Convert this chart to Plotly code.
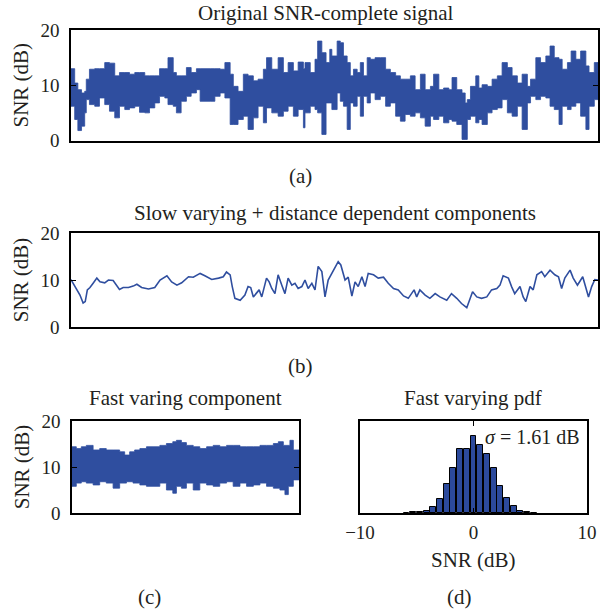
import plotly.graph_objects as go

# ---------------- data ----------------
# (a) original SNR complete signal: upper / lower envelope of the dense trace
a_pos = [0, 7, 13, 20, 26, 29, 35, 45, 54, 64, 73, 83, 92, 102, 111, 121, 130, 140, 149, 159, 168, 178, 184, 194, 200, 209, 219, 228, 238,
         245, 264, 273, 283, 292, 302, 308, 317, 327, 336, 346, 355, 365, 371, 381, 393, 403, 412, 422, 431, 441, 444, 454, 463, 468, 476, 484, 491,
         495, 505, 511, 517, 524, 530, 536, 543, 549, 555, 562, 568, 577, 587, 597, 606, 616, 625, 634, 644, 653, 663, 672, 682, 688, 698, 707, 717, 723, 732, 742, 748,
         752, 758, 768, 774, 780, 790, 799, 809, 818, 828, 837, 847, 856, 866, 872, 882, 891, 901, 909, 917, 926, 932, 942, 949, 958, 967, 977, 983, 993, 1000]
a_upper = [13.0, 10.4, 9.2, 8.6, 8.9, 11.1, 12.9, 13.0, 13.0, 14.1, 14.0, 11.7, 12.3, 12.3, 12.0, 12.3, 12.3, 11.7, 11.7, 11.7, 13.0, 13.0, 15.0, 12.3, 11.7, 11.7, 13.2, 12.3, 13.0,
           13.0, 13.0, 13.0, 12.9, 14.1, 12.0, 9.8, 8.9, 12.0, 11.7, 10.8, 11.1, 12.9, 15.0, 12.9, 15.0, 12.3, 14.1, 12.6, 14.2, 13.0, 14.1, 12.3, 14.7, 18.0, 15.9, 14.1, 16.5,
           15.3, 18.0, 17.7, 15.3, 14.1, 11.7, 12.9, 12.3, 14.1, 11.7, 15.0, 14.7, 15.0, 15.0, 12.9, 12.3, 11.7, 11.1, 11.1, 11.7, 9.2, 12.0, 9.2, 9.8, 12.0, 9.2, 9.5, 9.2, 11.4, 9.2, 8.6, 6.8,
           7.4, 9.8, 11.7, 9.5, 10.1, 9.8, 11.1, 11.7, 14.1, 13.2, 11.7, 10.4, 12.0, 9.8, 11.1, 15.0, 14.1, 15.3, 17.1, 15.0, 14.7, 12.9, 14.1, 16.2, 14.7, 16.2, 13.5, 12.3, 14.1, 12.3]
a_lower = [7.7, 6.2, 3.8, 1.8, 2.6, 5.0, 7.4, 6.5, 6.2, 7.7, 6.5, 5.3, 4.1, 6.2, 5.6, 5.9, 6.2, 5.1, 5.0, 5.9, 6.8, 8.0, 7.7, 6.5, 6.2, 5.0, 7.1, 8.0, 8.6,
           9.2, 7.1, 7.1, 8.0, 8.6, 7.7, 2.9, 2.9, 3.8, 4.4, 2.0, 4.1, 6.2, 3.2, 5.9, 5.0, 4.4, 5.3, 6.2, 4.4, 5.6, 2.3, 5.0, 6.2, 5.6, 5.0, 1.1, 6.8,
           6.8, 5.6, 8.6, 7.1, 6.2, 2.0, 6.8, 6.2, 8.0, 4.4, 8.0, 6.8, 8.6, 7.4, 8.0, 6.2, 6.8, 4.4, 3.5, 4.7, 4.4, 5.0, 4.1, 2.6, 4.4, 3.8, 4.4, 3.2, 3.8, 3.5, 2.9, 0.2,
           0.2, 3.8, 4.4, 3.2, 3.8, 2.9, 5.0, 5.6, 5.9, 7.4, 5.0, 4.4, 6.2, 2.0, 6.8, 8.0, 7.4, 8.0, 7.7, 6.2, 5.6, 2.9, 6.2, 5.6, 6.2, 6.8, 4.4, 2.0, 6.2, 7.4]

# (b) slow varying + distance dependent components
b_pos = [0, 8, 17, 23, 27, 31, 36, 42, 49, 55, 64, 71, 80, 92, 99, 109, 118, 125, 134, 147, 159, 169, 182, 191, 201, 210, 223, 232, 245, 254,
         267, 280, 289, 295, 302, 306, 311, 321, 330, 336, 341, 346, 352, 357, 362, 371, 376, 381, 387, 393, 400, 406, 412, 419, 425, 431, 438, 444, 450,
         457, 463, 469, 476, 482, 488, 495, 501, 507, 512, 520, 526, 533, 539, 545, 552, 558, 564, 574, 583, 593, 602, 612, 621, 631, 640,
         651, 656, 662, 672, 681, 691, 700, 713, 722, 732, 741, 751, 757, 762, 770, 779, 789, 798, 808, 814, 820, 830, 836, 842, 852, 858,
         863, 871, 877, 884, 893, 899, 909, 918, 925, 931, 937, 947, 953, 961, 971, 982, 988, 994, 1000]
b_snr = [10.1, 8.6, 6.8, 5.1, 5.4, 7.9, 8.4, 9.3, 10.4, 9.6, 9.4, 10.0, 9.9, 8.0, 8.4, 8.4, 8.7, 9.1, 8.4, 8.1, 8.4, 10.0, 10.9, 9.6, 8.9, 9.4, 10.7, 10.6, 11.4, 10.9,
         10.1, 10.4, 10.7, 11.7, 11.1, 8.6, 6.1, 5.7, 6.8, 8.6, 8.4, 6.4, 7.1, 7.9, 6.4, 10.4, 9.6, 8.2, 7.1, 11.1, 8.9, 7.1, 10.4, 8.9, 9.3, 8.2, 8.6, 10.0, 8.2,
         9.3, 7.9, 12.9, 11.8, 6.4, 10.0, 11.4, 12.9, 13.9, 13.2, 10.0, 10.6, 6.6, 9.6, 8.6, 10.7, 8.6, 11.4, 11.1, 10.4, 10.6, 9.3, 8.2, 7.9, 6.6, 6.1,
         7.9, 6.4, 7.9, 6.8, 6.1, 7.1, 6.4, 5.7, 7.1, 6.1, 5.0, 4.1, 6.1, 7.5, 6.4, 6.1, 6.4, 7.9, 8.2, 8.9, 10.9, 10.4, 8.6, 7.1, 8.6, 6.4,
         5.4, 8.6, 7.9, 11.1, 11.8, 10.7, 12.1, 11.1, 10.7, 8.2, 10.4, 12.1, 10.4, 8.9, 10.7, 6.4, 8.6, 10.1, 10.0]

# (c) fast varying component: upper / lower envelope
c_up_pos = [0, 19, 41, 63, 93, 122, 151, 181, 210, 232, 254, 276, 299, 328, 357, 387, 416, 444, 460, 482, 504, 534, 563, 593, 622, 651, 681, 710, 740, 769, 799, 828, 857, 887, 909, 931, 960, 975, 1000]
c_upper = [14.4, 14.0, 14.4, 14.7, 13.7, 14.0, 13.7, 13.7, 13.3, 12.6, 13.3, 13.7, 14.0, 14.4, 14.4, 14.7, 15.1, 15.5, 15.8, 15.3, 14.7, 14.4, 14.0, 14.4, 14.7, 14.4, 14.7, 14.7, 14.4, 14.4, 14.4, 14.7, 14.7, 15.1, 15.5, 14.7, 15.8, 13.7, 13.3]
c_lo_pos = [0, 19, 41, 63, 93, 122, 151, 181, 210, 240, 269, 299, 328, 357, 387, 416, 444, 460, 482, 504, 534, 563, 593, 622, 651, 681, 710, 740, 769, 799, 828, 857, 887, 916, 938, 953, 975, 1000]
c_lower = [7.2, 5.8, 6.5, 6.8, 6.5, 6.1, 6.8, 6.5, 5.4, 6.5, 6.8, 6.5, 6.1, 5.8, 5.8, 6.5, 5.0, 4.3, 5.8, 5.4, 6.5, 5.0, 6.5, 6.1, 5.8, 6.5, 6.8, 5.8, 6.5, 5.8, 6.1, 6.5, 5.8, 5.4, 5.0, 4.0, 5.8, 7.2]

# (d) fast varying pdf (histogram)
d_bins = [-5.90, -5.31, -4.72, -4.13, -3.54, -2.95, -2.36, -1.77, -1.18, -0.59, 0.0, 0.59, 1.18, 1.77, 2.36, 2.95, 3.54, 4.13, 4.72, 5.31]
d_pdf = [0.004, 0.007, 0.011, 0.022, 0.065, 0.155, 0.32, 0.489, 0.698, 0.698, 0.835, 0.734, 0.64, 0.486, 0.295, 0.162, 0.072, 0.025, 0.011, 0.005]

y_ticks = [0, 10, 20]
x_ticks_d = [-10, 0, 10]
x_ticktext_d = ["\u221210", "0", "10"]

# ---------------- styling ----------------
BLUE = "#2f4e9f"
FONT = "Liberation Serif"
TXT = "#231f20"
H = 611.0
W = 600.0


def py(p):
    return 1 - p / H


def px(p):
    return p / W


fig = go.Figure()

# (a)
fig.add_trace(go.Scatter(x=a_pos + a_pos[::-1], y=a_upper + a_lower[::-1], fill="toself",
                         fillcolor=BLUE, line=dict(color=BLUE, width=0.8, shape="hv"), mode="lines",
                         xaxis="x", yaxis="y", hoverinfo="skip"))
# (b)
fig.add_trace(go.Scatter(x=b_pos, y=b_snr, mode="lines", line=dict(color=BLUE, width=1.6),
                         xaxis="x2", yaxis="y2"))
# (c)
fig.add_trace(go.Scatter(x=c_up_pos + c_lo_pos[::-1], y=c_upper + c_lower[::-1], fill="toself",
                         fillcolor=BLUE, line=dict(color=BLUE, width=0.8, shape="hv"), mode="lines",
                         xaxis="x3", yaxis="y3", hoverinfo="skip"))
# (d)
fig.add_trace(go.Bar(x=d_bins, y=d_pdf, width=0.52, marker=dict(color="#2c4a9c", line=dict(color="black", width=1)),
                     xaxis="x4", yaxis="y4"))

axis_common = dict(showline=True, linecolor="black", linewidth=1.5, showgrid=False, zeroline=False,
                   automargin=False, tickfont=dict(family=FONT, size=19, color=TXT))

def yax(domain, anchor):
    return dict(axis_common, domain=domain, anchor=anchor, range=[0, 20], tickvals=y_ticks,
                ticks="inside", ticklen=5, tickcolor="black", mirror="ticks", ticklabelstandoff=6,
                title=dict(text="SNR (dB)", font=dict(family=FONT, size=21, color=TXT), standoff=6))

def xax(domain, anchor):
    return dict(axis_common, domain=domain, anchor=anchor, range=[0, 1000], showticklabels=False,
                ticks="", mirror=True)

fig.update_layout(
    width=600, height=611, margin=dict(l=0, r=0, t=0, b=0, autoexpand=False),
    paper_bgcolor="white", plot_bgcolor="white", showlegend=False, bargap=0,
    xaxis=xax([px(71), px(598)], "y"),
    yaxis=yax([py(140.5), py(30)], "x"),
    xaxis2=xax([px(71), px(598)], "y2"),
    yaxis2=yax([py(327), py(233)], "x2"),
    xaxis3=xax([px(72), px(299)], "y3"),
    yaxis3=yax([py(513), py(421)], "x3"),
    xaxis4=dict(axis_common, domain=[px(360), px(587)], anchor="y4", range=[-10, 10],
                tickvals=x_ticks_d, ticktext=x_ticktext_d, ticks="inside", ticklen=5,
                tickcolor="black", mirror="ticks", ticklabelstandoff=1),
    yaxis4=dict(axis_common, domain=[py(513), py(421)], anchor="x4", range=[0, 1],
                showticklabels=False, ticks="", mirror=True),
)

def label(text, x, y, size=21):
    fig.add_annotation(text=text, x=px(x), y=py(y), xref="paper", yref="paper",
                       showarrow=False, xanchor="center", yanchor="middle",
                       font=dict(family=FONT, size=size, color=TXT))

label("Original SNR-complete signal", 326, 13)
label("(a)", 300, 176)
label("Slow varying + distance dependent components", 335, 213)
label("(b)", 300, 366)
label("Fast varing component", 185, 398)
label("(c)", 149, 597)
label("Fast varying pdf", 473, 398)
label("SNR (dB)", 473, 560)
label("(d)", 459, 597)
label("<i>σ</i> = 1.61 dB", 532, 437, size=20)

fig.write_html("out.html")
